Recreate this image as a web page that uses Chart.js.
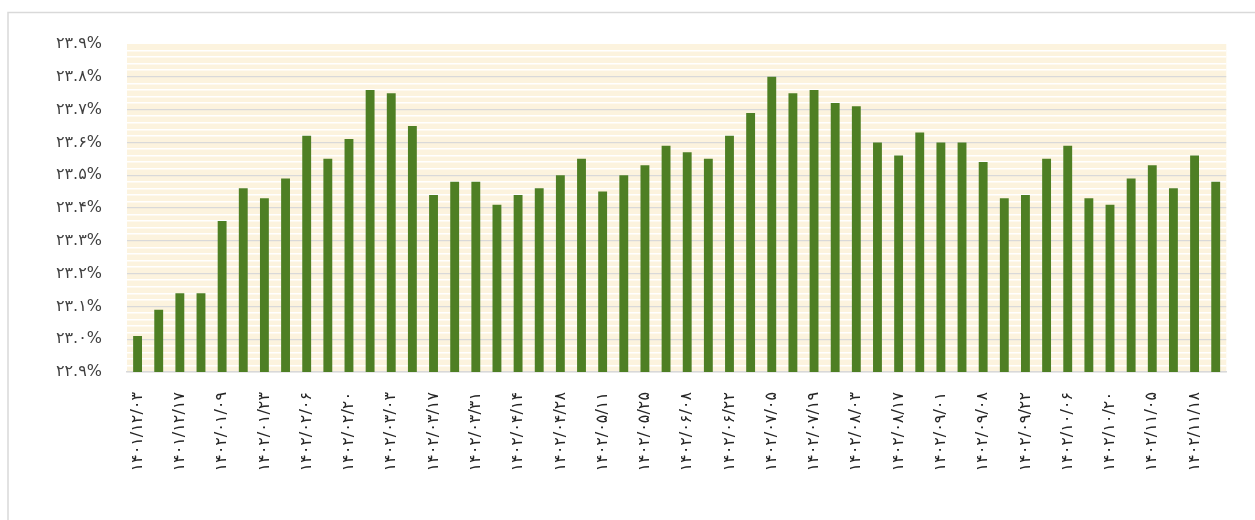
<!DOCTYPE html>
<html>
<head>
<meta charset="utf-8">
<script src="https://cdn.jsdelivr.net/npm/chart.js@4.4.1/dist/chart.umd.min.js"></script>
<style>
  html, body { margin: 0; padding: 0; background: #ffffff; overflow: hidden; }
  #wrap { position: relative; width: 1255px; height: 520px; }
</style>
</head>
<body>
<div id="wrap"><canvas id="c" width="1255" height="520"></canvas></div>
<script>
// ---- data ----
const categories = [
  '۱۴۰۱/۱۲/۰۳','۱۴۰۱/۱۲/۱۰','۱۴۰۱/۱۲/۱۷','۱۴۰۱/۱۲/۲۷',
  '۱۴۰۲/۰۱/۰۹','۱۴۰۲/۰۱/۱۶','۱۴۰۲/۰۱/۲۳','۱۴۰۲/۰۱/۳۰',
  '۱۴۰۲/۰۲/۰۶','۱۴۰۲/۰۲/۱۳','۱۴۰۲/۰۲/۲۰','۱۴۰۲/۰۲/۲۷',
  '۱۴۰۲/۰۳/۰۳','۱۴۰۲/۰۳/۱۰','۱۴۰۲/۰۳/۱۷','۱۴۰۲/۰۳/۲۴',
  '۱۴۰۲/۰۳/۳۱','۱۴۰۲/۰۴/۰۷','۱۴۰۲/۰۴/۱۴','۱۴۰۲/۰۴/۲۱',
  '۱۴۰۲/۰۴/۲۸','۱۴۰۲/۰۵/۰۴','۱۴۰۲/۰۵/۱۱','۱۴۰۲/۰۵/۱۸',
  '۱۴۰۲/۰۵/۲۵','۱۴۰۲/۰۶/۰۱','۱۴۰۲/۰۶/۰۸','۱۴۰۲/۰۶/۱۵',
  '۱۴۰۲/۰۶/۲۲','۱۴۰۲/۰۶/۲۹','۱۴۰۲/۰۷/۰۵','۱۴۰۲/۰۷/۱۲',
  '۱۴۰۲/۰۷/۱۹','۱۴۰۲/۰۷/۲۶','۱۴۰۲/۰۸/۰۳','۱۴۰۲/۰۸/۱۰',
  '۱۴۰۲/۰۸/۱۷','۱۴۰۲/۰۸/۲۴','۱۴۰۲/۰۹/۰۱','۱۴۰۲/۰۹/۰۴',
  '۱۴۰۲/۰۹/۰۸','۱۴۰۲/۰۹/۱۵','۱۴۰۲/۰۹/۲۲','۱۴۰۲/۰۹/۲۹',
  '۱۴۰۲/۱۰/۰۶','۱۴۰۲/۱۰/۱۳','۱۴۰۲/۱۰/۲۰','۱۴۰۲/۱۰/۲۷',
  '۱۴۰۲/۱۱/۰۵','۱۴۰۲/۱۱/۱۱','۱۴۰۲/۱۱/۱۸','۱۴۰۲/۱۱/۲۵'
];

const values = [
  23.01, 23.09, 23.14, 23.14, 23.36, 23.46, 23.43, 23.49, 23.62, 23.55,
  23.61, 23.76, 23.75, 23.65, 23.44, 23.48, 23.48, 23.41, 23.44, 23.46,
  23.50, 23.55, 23.45, 23.50, 23.53, 23.59, 23.57, 23.55, 23.62, 23.69,
  23.80, 23.75, 23.76, 23.72, 23.71, 23.60, 23.56, 23.63, 23.60, 23.60,
  23.54, 23.43, 23.44, 23.55, 23.59, 23.43, 23.41, 23.49, 23.53, 23.46,
  23.56, 23.48
];

const yMin = 22.9;
const yMax = 23.9;
const yMinorStep = 0.02;

const faDigits = ['۰','۱','۲','۳','۴','۵','۶','۷','۸','۹'];
function toFa(s) { return String(s).replace(/[0-9]/g, d => faDigits[+d]); }
function isMajor(v) { return Math.abs(v * 10 - Math.round(v * 10)) < 1e-6; }

const FONT = "'DejaVu Sans', 'Noto Sans', sans-serif";

const bgPlugin = {
  id: 'bg',
  beforeDraw(chart) {
    const ctx = chart.ctx;
    const a = chart.chartArea;
    ctx.save();
    ctx.fillStyle = '#ffffff';
    ctx.fillRect(0, 0, chart.width, chart.height);
    ctx.strokeStyle = '#d9d9d9';
    ctx.lineWidth = 1.5;
    ctx.beginPath();
    ctx.moveTo(8, chart.height + 2);
    ctx.lineTo(8, 12.5);
    ctx.lineTo(chart.width + 2, 12.5);
    ctx.stroke();
    ctx.fillStyle = '#fcf3de';
    ctx.fillRect(a.left, a.top, a.right - a.left, a.bottom - a.top);
    ctx.restore();
  }
};

new Chart(document.getElementById('c'), {
  type: 'bar',
  data: {
    labels: categories,
    datasets: [{
      data: values,
      backgroundColor: '#4e7f24',
      borderWidth: 0,
      barPercentage: 0.42,
      categoryPercentage: 1.0
    }]
  },
  options: {
    responsive: false,
    animation: false,
    devicePixelRatio: 1,
    layout: { padding: { top: 44, right: 10, bottom: 0, left: 0 } },
    plugins: { legend: { display: false }, tooltip: { enabled: false } },
    scales: {
      x: {
        grid: { display: false, drawTicks: false },
        border: { display: true, color: '#d9d9d9', width: 1.5 },
        ticks: {
          autoSkip: false,
          maxRotation: 90,
          minRotation: 90,
          padding: 20,
          color: '#262626',
          font: { family: FONT, size: 16 },
          callback: function (v, i) { return i % 2 === 0 ? categories[i] : ''; }
        },
        afterFit: function (s) { s.height = 148; }
      },
      y: {
        min: yMin,
        max: yMax,
        border: { display: false },
        grid: {
          drawTicks: false,
          lineWidth: function (c) { return isMajor(c.tick.value) ? 1.3 : 1.5; },
          color: function (c) {
            const v = c.tick.value;
            if (Math.abs(v - yMax) < 1e-6) return 'rgba(0,0,0,0)';
            return isMajor(v) ? '#d9d9d9' : '#ffffff';
          }
        },
        ticks: {
          stepSize: yMinorStep,
          autoSkip: false,
          padding: 25,
          color: '#404040',
          font: { family: FONT, size: 16 },
          callback: function (v) {
            return isMajor(v) ? toFa(v.toFixed(1)) + '%' : '';
          }
        },
        afterFit: function (s) { s.width = 127; }
      }
    }
  },
  plugins: [bgPlugin]
});
</script>
</body>
</html>
